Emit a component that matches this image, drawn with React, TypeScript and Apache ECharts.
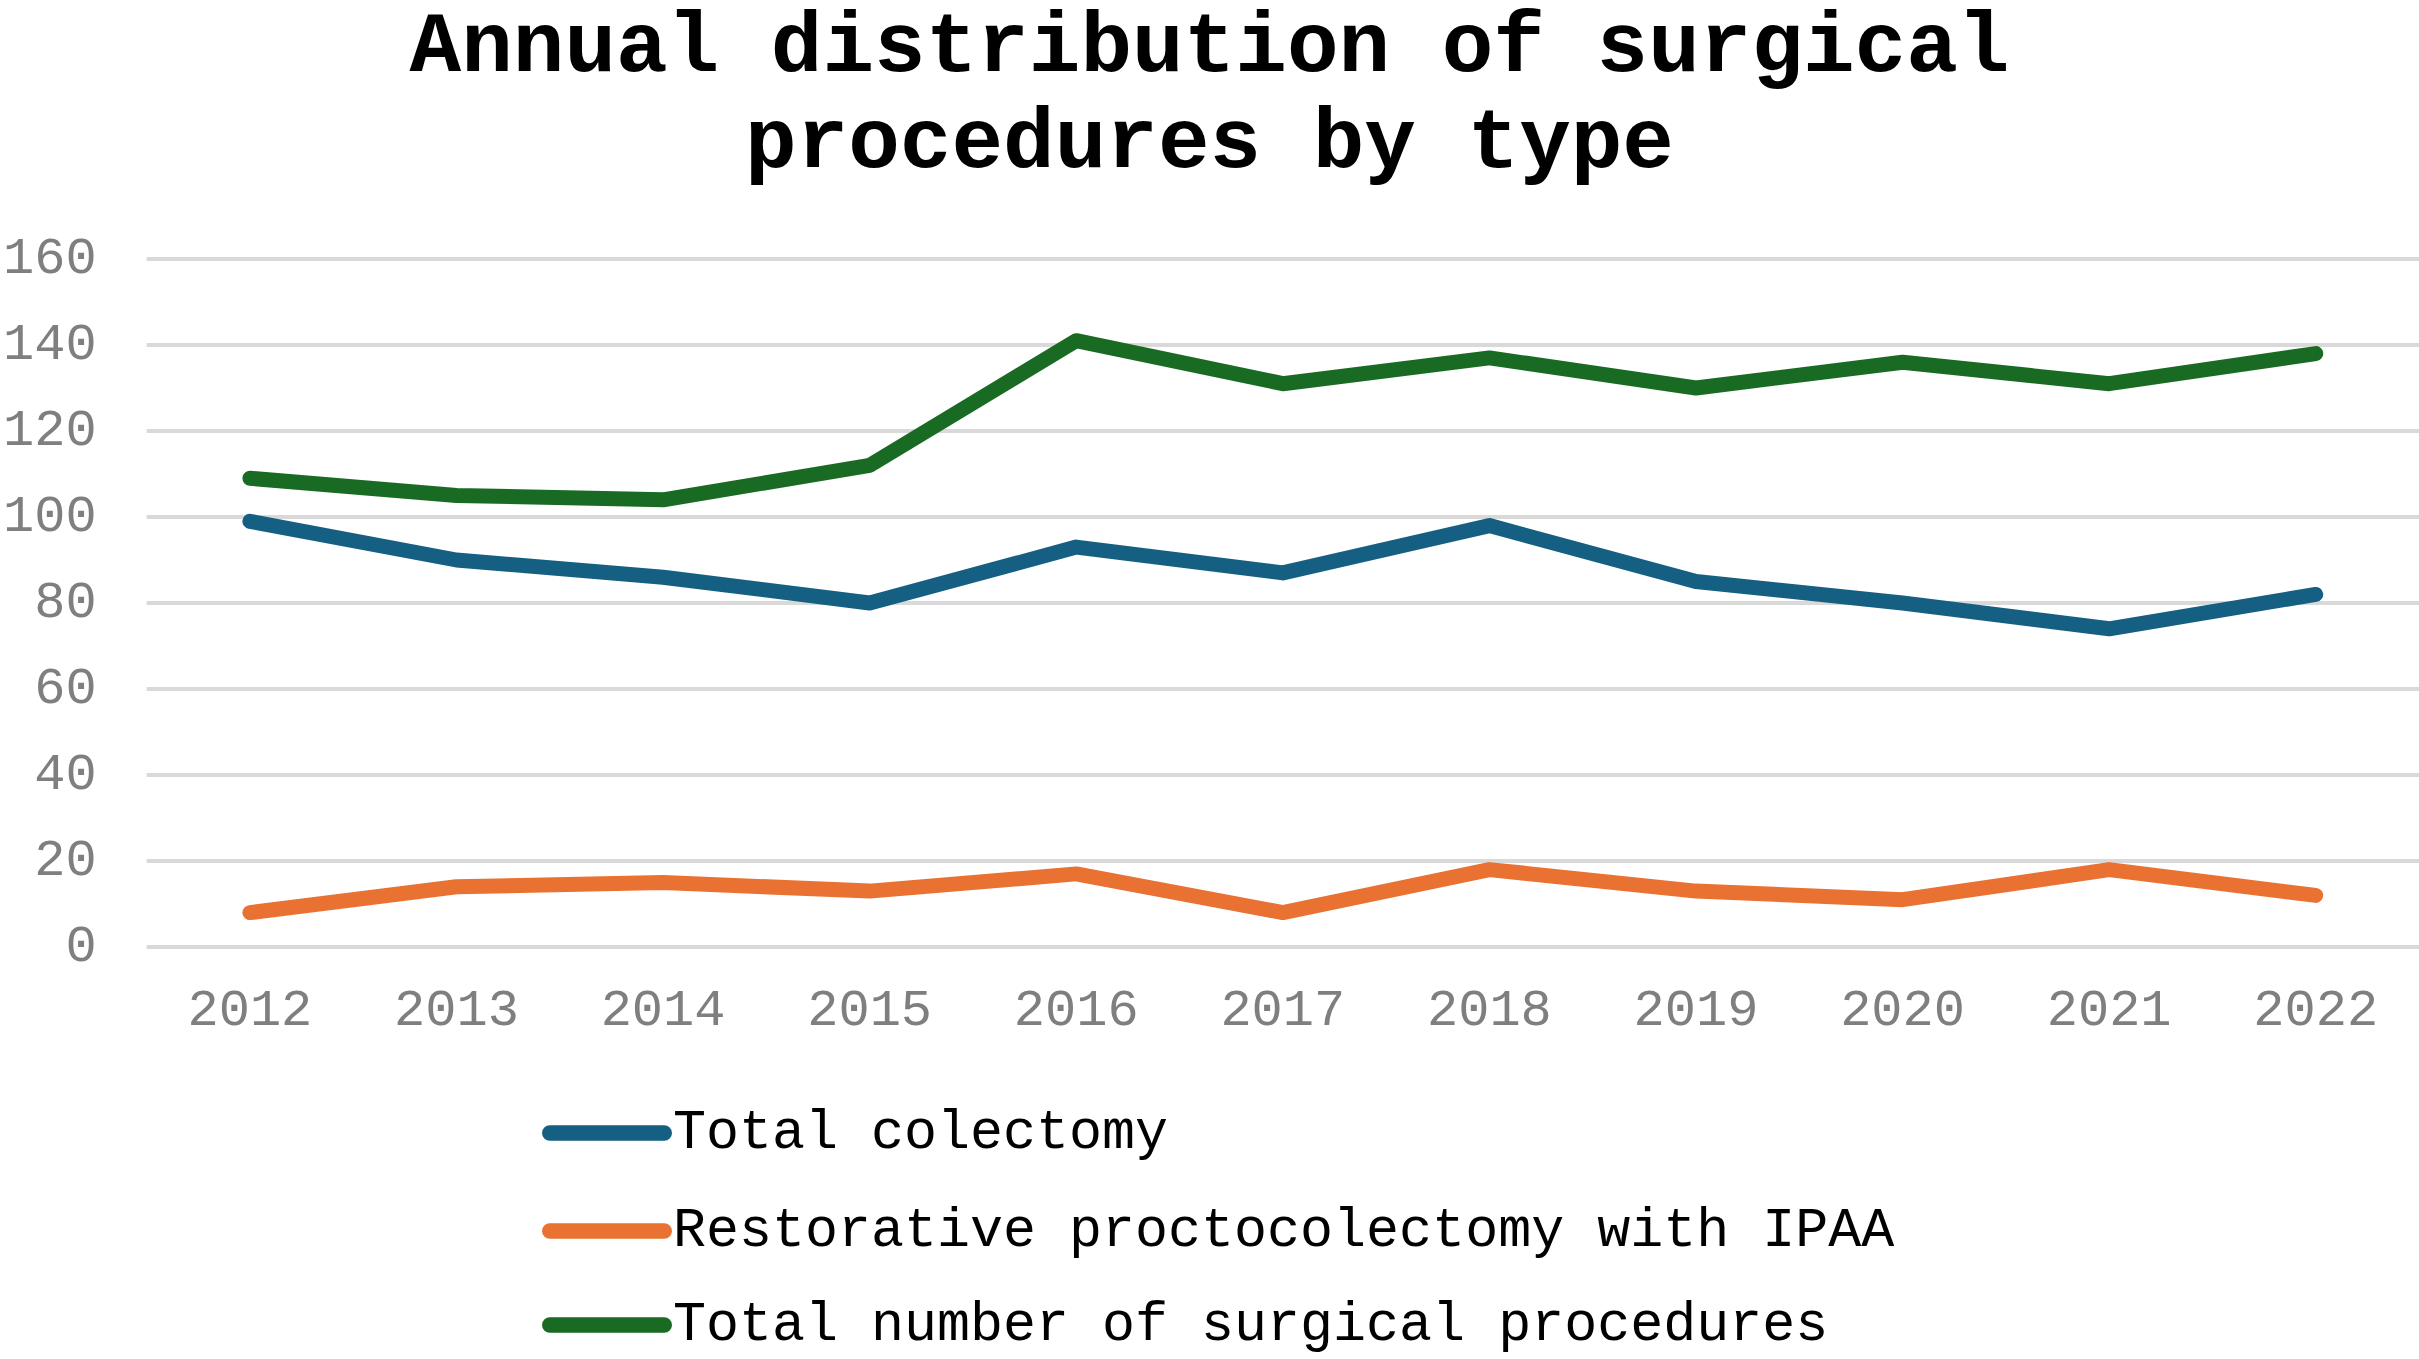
import { useRef, useEffect } from "react";
import * as echarts from "echarts";

// 数据
const years = ["2012", "2013", "2014", "2015", "2016", "2017", "2018", "2019", "2020", "2021", "2022"];
const totalColectomy = [99, 90, 86, 80, 93, 87, 98, 85, 80, 74, 82];
const restorativeIpaa = [8, 14, 15, 13, 17, 8, 18, 13, 11, 18, 12];
const totalProcedures = [109, 105, 104, 112, 141, 131, 137, 130, 136, 131, 138];
const seriesNames = [
  "Total colectomy",
  "Restorative proctocolectomy with IPAA",
  "Total number of surgical procedures",
];
const seriesColors = ["#156082", "#E97132", "#196B24"];

const MONO = '"Courier New", "Liberation Mono", monospace';
const PILL = "path://M6,0 H94 A6,6 0 0 1 94,12 H6 A6,6 0 0 1 6,0 Z";
const legendCenters = [1128, 1226, 1320];

const lineSeries = (name: string, data: number[], color: string) => ({
  name,
  type: "line",
  data,
  symbol: "none",
  color,
  lineStyle: { width: 15, color, cap: "round", join: "round" },
});

const App = () => {
  const chartRef = useRef<HTMLDivElement>(null);

  useEffect(() => {
    document.body.style.margin = "0";
    const chart = echarts.init(chartRef.current, null, { renderer: "svg" });

    // 每个图例单独放一行，避免换列
    const legends = seriesNames.map((name, i) => ({
      data: [name],
      left: 537,
      top: legendCenters[i] - 28,
      icon: PILL,
      itemWidth: 130,
      itemHeight: 16,
      textStyle: {
        fontFamily: MONO,
        fontSize: 55,
        lineHeight: 56,
        color: "#000000",
        padding: [0, 0, 0, -4],
      },
    }));

    chart.setOption({
      animation: false,
      backgroundColor: "#ffffff",
      title: {
        text: "Annual distribution of surgical\nprocedures by type",
        left: "center",
        top: 0,
        padding: 0,
        textStyle: {
          fontFamily: MONO,
          fontWeight: "bold",
          fontSize: 86,
          lineHeight: 96,
          color: "#000000",
        },
      },
      legend: legends,
      grid: { left: 142, right: 0, top: 259, bottom: 412 },
      xAxis: {
        type: "category",
        data: years,
        boundaryGap: true,
        axisLine: { show: false },
        axisTick: { show: false },
        axisLabel: {
          margin: 38,
          fontFamily: MONO,
          fontSize: 52,
          color: "#7f7f7f",
        },
      },
      yAxis: {
        type: "value",
        min: 0,
        max: 160,
        interval: 20,
        axisLine: { show: false },
        axisTick: { show: false },
        axisLabel: {
          margin: 50,
          fontFamily: MONO,
          fontSize: 52,
          color: "#7f7f7f",
        },
        splitLine: { lineStyle: { color: "#d9d9d9", width: 4 } },
      },
      series: [
        lineSeries(seriesNames[0], totalColectomy, seriesColors[0]),
        lineSeries(seriesNames[1], restorativeIpaa, seriesColors[1]),
        lineSeries(seriesNames[2], totalProcedures, seriesColors[2]),
      ],
    });

    return () => {
      chart.dispose();
    };
  }, []);

  return <div ref={chartRef} style={{ width: "2419px", height: "1359px" }}></div>;
};

export default App;
